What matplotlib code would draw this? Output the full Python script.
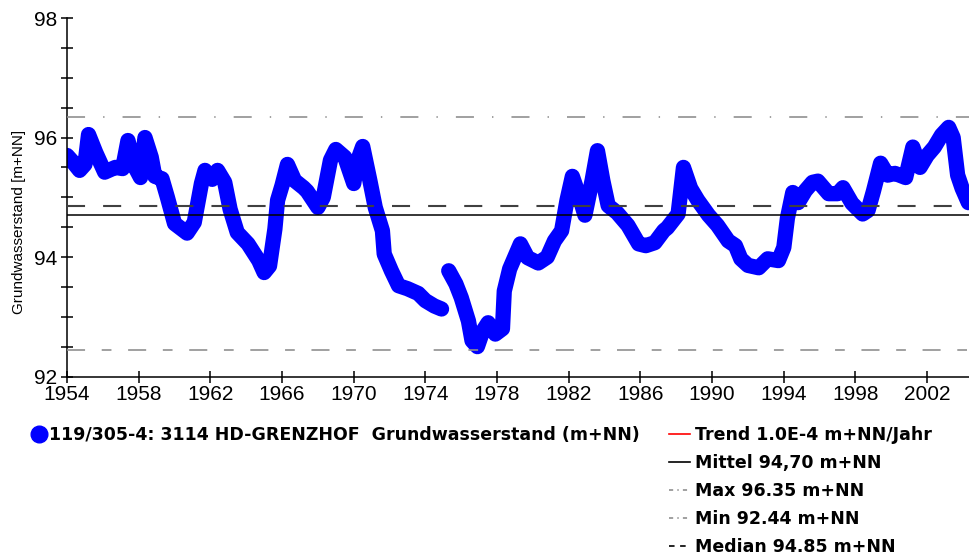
import numpy as np
import matplotlib
matplotlib.use("Agg")
import matplotlib.pyplot as plt
from matplotlib.lines import Line2D
from matplotlib.ticker import MultipleLocator

# groundwater level readings (year, m+NN); nan marks the gap
years = [1954.0, 1954.3, 1954.7, 1955.0, 1955.2, 1955.6, 1956.1, 1956.7, 1957.1, 1957.4,
         1957.8, 1958.1, 1958.35, 1958.7, 1958.9, 1959.3, 1959.6, 1960.0, 1960.7, 1961.1,
         1961.5, 1961.7, 1962.1, 1962.4, 1962.8, 1963.1, 1963.5, 1964.1, 1964.7, 1965.0,
         1965.3, 1965.6, 1965.75, 1966.0, 1966.3, 1966.7, 1967.2, 1967.4, 1968.0, 1968.3,
         1968.7, 1969.0, 1969.5, 1970.0, 1970.2, 1970.5, 1970.9, 1971.2, 1971.6, 1971.7,
         1972.1, 1972.5, 1973.0, 1973.6, 1974.0, 1974.5, 1974.9, 1975.1, 1975.3, 1975.7,
         1976.0, 1976.4, 1976.6, 1976.9, 1977.2, 1977.5, 1977.9, 1978.3, 1978.4, 1978.7,
         1979.3, 1979.7, 1980.3, 1980.8, 1981.2, 1981.6, 1981.9, 1982.2, 1982.6, 1982.9,
         1983.3, 1983.6, 1983.9, 1984.2, 1984.7, 1985.3, 1985.9, 1986.3, 1986.8, 1987.3,
         1987.5, 1988.1, 1988.4, 1988.8, 1989.2, 1989.8, 1990.3, 1990.9, 1991.3, 1991.6,
         1992.0, 1992.6, 1993.1, 1993.7, 1994.0, 1994.2, 1994.5, 1994.8, 1995.2, 1995.6,
         1995.9, 1996.5, 1997.0, 1997.3, 1997.8, 1998.4, 1998.7, 1999.0, 1999.4, 1999.8,
         2000.2, 2000.8, 2001.2, 2001.6, 2002.0, 2002.4, 2002.8, 2003.2, 2003.45, 2003.7,
         2003.95, 2004.3]
levels = [95.70, 95.60, 95.45, 95.55, 96.05, 95.75, 95.42, 95.50, 95.48, 95.95,
          95.50, 95.33, 96.00, 95.67, 95.35, 95.31, 95.00, 94.56, 94.40, 94.58,
          95.23, 95.45, 95.30, 95.45, 95.25, 94.80, 94.41, 94.22, 93.94, 93.74,
          93.85, 94.47, 94.95, 95.20, 95.55, 95.28, 95.16, 95.10, 94.83, 95.00,
          95.62, 95.80, 95.67, 95.23, 95.60, 95.85, 95.28, 94.83, 94.44, 94.05,
          93.77, 93.52, 93.47, 93.39, 93.27, 93.18, 93.13, np.nan, 93.77, 93.55,
          93.32, 92.93, 92.60, 92.50, 92.76, 92.90, 92.71, 92.80, 93.43, 93.80,
          94.22, 93.99, 93.90, 94.00, 94.27, 94.44, 94.95, 95.35, 95.00, 94.70,
          95.28, 95.78, 95.28, 94.86, 94.74, 94.53, 94.22, 94.19, 94.24, 94.44,
          94.49, 94.72, 95.50, 95.15, 94.95, 94.70, 94.53, 94.27, 94.19, 93.97,
          93.86, 93.82, 93.97, 93.94, 94.16, 94.65, 95.08, 94.91, 95.11, 95.25,
          95.27, 95.06, 95.06, 95.16, 94.90, 94.72, 94.78, 95.10, 95.57, 95.37,
          95.40, 95.33, 95.84, 95.50, 95.70, 95.84, 96.04, 96.17, 96.00, 95.37,
          95.15, 94.91]

x_ticks = [1954, 1958, 1962, 1966, 1970, 1974, 1978, 1982, 1986, 1990, 1994, 1998, 2002]
y_ticks = [92, 94, 96, 98]

mittel = 94.70
maximum = 96.35
minimum = 92.44
median = 94.85

series_label = "119/305-4: 3114 HD-GRENZHOF  Grundwasserstand (m+NN)"
line_labels = ["Trend 1.0E-4 m+NN/Jahr", "Mittel 94,70 m+NN", "Max 96.35 m+NN",
               "Min 92.44 m+NN", "Median 94.85 m+NN"]

plt.rcParams['font.family'] = ['Liberation Sans', 'DejaVu Sans']
plt.rcParams['lines.scale_dashes'] = False

fig = plt.figure(figsize=(9.7, 5.56), dpi=100)
ax = fig.add_axes([0.0691, 0.3228, 0.9309, 0.6448])

ax.plot(years, levels, color='#0000ff', lw=11, solid_joinstyle='round',
        solid_capstyle='round', zorder=2)

# reference lines sit on top of the data
ax.axhline(mittel, color='black', lw=1.1, zorder=3)
ax.axhline(median, color='#404040', lw=1.5, dashes=(13, 13), zorder=3)
ax.axhline(maximum, color='#909090', lw=1.2, dashes=(13, 13, 1, 13), zorder=3)
ax.axhline(minimum, color='#909090', lw=1.2, dashes=(13, 12, 7, 12), zorder=3)

ax.set_xlim(1954, 2004.39)
ax.set_ylim(92, 98)
ax.set_xticks(x_ticks)
ax.set_yticks(y_ticks)
ax.yaxis.set_minor_locator(MultipleLocator(0.5))
ax.tick_params(which='both', direction='inout', length=8, width=1.1,
               labelsize=15, colors='black')
ax.tick_params(axis='y', pad=3)
ax.tick_params(axis='x', pad=2)
for side in ['top', 'right']:
    ax.spines[side].set_visible(False)
for side in ['left', 'bottom']:
    ax.spines[side].set_linewidth(1.1)

ax.set_ylabel('Grundwasserstand [m+NN]', fontsize=11, family=['Liberation Sans'])
ax.yaxis.set_label_coords(-0.045, 0.43)

legend_font = {'family': ['DejaVu Sans'], 'weight': 'bold', 'size': 12.5}
dot = Line2D([], [], ls='none', marker='o', ms=12, color='#0000ff')
fig.legend(handles=[dot], labels=[series_label], loc='upper left',
           bbox_to_anchor=(23 / 970, 1 - 417 / 556), frameon=False, borderpad=0,
           handlelength=0.9, handletextpad=0.1, prop=legend_font)

proxies = [
    Line2D([], [], color='red', lw=1.2),
    Line2D([], [], color='black', lw=1.2),
    Line2D([], [], color='#909090', lw=1.2, dashes=(3, 3, 1, 3)),
    Line2D([], [], color='#909090', lw=1.2, dashes=(3, 3, 1, 3)),
    Line2D([], [], color='black', lw=1.2, dashes=(4, 4)),
]
fig.legend(handles=proxies, labels=line_labels, loc='upper left',
           bbox_to_anchor=(660 / 970, 1 - 417 / 556), frameon=False, borderpad=0,
           handlelength=1.25, handletextpad=0.25, labelspacing=0.58, prop=legend_font)

fig.savefig('out.png', dpi=100)
